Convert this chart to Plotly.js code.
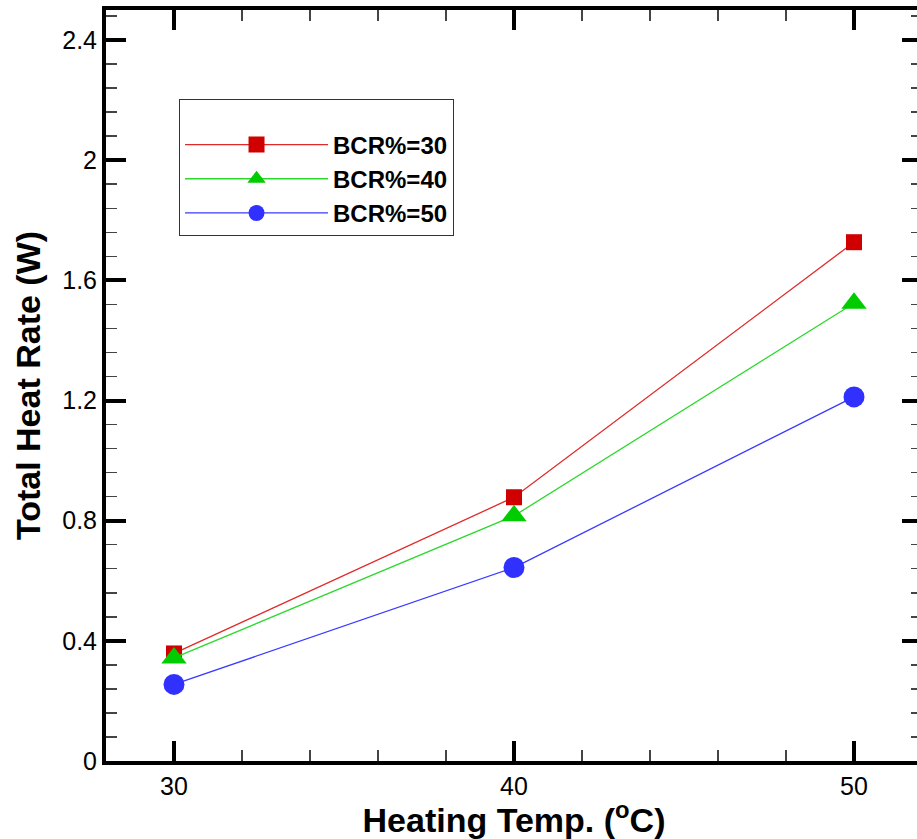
<!DOCTYPE html>
<html>
<head>
<meta charset="utf-8">
<script src="https://cdn.plot.ly/plotly-3.0.1.min.js"></script>
<style>
html,body{margin:0;padding:0;overflow:hidden;background:#fff;}
#chart{width:930px;height:839px;}
</style>
</head>
<body>
<div id="chart"></div>
<script>
const temps = [30, 40, 50];
const bcr30 = [0.358, 0.878, 1.727];
const bcr40 = [0.343, 0.816, 1.524];
const bcr50 = [0.255, 0.644, 1.212];
const seriesNames = ['BCR%=30', 'BCR%=40', 'BCR%=50'];
const yTicks = [0, 0.4, 0.8, 1.2, 1.6, 2, 2.4];
const yTickText = ['0', '0.4', '0.8', '1.2', '1.6', '2', '2.4'];
const xTicks = [30, 40, 50];

const font = 'Liberation Sans, Arial, sans-serif';

const traces = [
  {x: temps, y: bcr30, name: seriesNames[0], mode: 'lines+markers',
   line: {color: '#e02a2a', width: 1.3},
   marker: {symbol: 'square', size: 16, color: '#d00000'}},
  {x: temps, y: bcr40, name: seriesNames[1], mode: 'lines+markers',
   line: {color: '#2ed82e', width: 1.3},
   marker: {symbol: 'triangle-up', size: 22, color: '#00cc00'}},
  {x: temps, y: bcr50, name: seriesNames[2], mode: 'lines+markers',
   line: {color: '#3a3aff', width: 1.3},
   marker: {symbol: 'circle', size: 21, color: '#3030ff'}}
];

const axisCommon = {
  showgrid: false, zeroline: false,
  showline: true, linecolor: '#000', linewidth: 4, mirror: 'ticks',
  ticks: 'inside', ticklen: 20, tickwidth: 4, tickcolor: '#000',
  tickfont: {family: font, size: 25, color: '#000'}
};

const layout = {
  width: 930, height: 839,
  margin: {l: 106, r: 8, t: 10, b: 78},
  paper_bgcolor: '#fff', plot_bgcolor: '#fff',
  showlegend: true,
  xaxis: Object.assign({}, axisCommon, {
    range: [28, 52], tickvals: xTicks,
    minor: {dtick: 2, tick0: 28, ticklen: 11, tickwidth: 1.5, tickcolor: '#444', ticks: 'inside'},
    title: {text: 'Heating Temp. (<sup>o</sup>C)', font: {family: font, size: 34, color: '#000', weight: 'bold'}, standoff: 0}
  }),
  yaxis: Object.assign({}, axisCommon, {
    range: [0, 2.5], tickvals: yTicks, ticktext: yTickText,
    minor: {dtick: 0.08, tick0: 0, ticklen: 11, tickwidth: 1.5, tickcolor: '#444', ticks: 'inside'},
    title: {text: 'Total Heat Rate (W)', font: {family: font, size: 34, color: '#000', weight: 'bold'}, standoff: 12}
  }),
  legend: {
    x: 0.0895, y: 0.881, xanchor: 'left', yanchor: 'top',
    bgcolor: '#fff', bordercolor: '#333', borderwidth: 1,
    font: {family: font, size: 24, color: '#000', weight: 'bold'},
    title: {text: '\u00a0', font: {family: font, size: 17}},
    itemwidth: 143,
    entrywidth: 310
  }
};

Plotly.newPlot('chart', traces, layout, {displayModeBar: false, staticPlot: true});
</script>
</body>
</html>
